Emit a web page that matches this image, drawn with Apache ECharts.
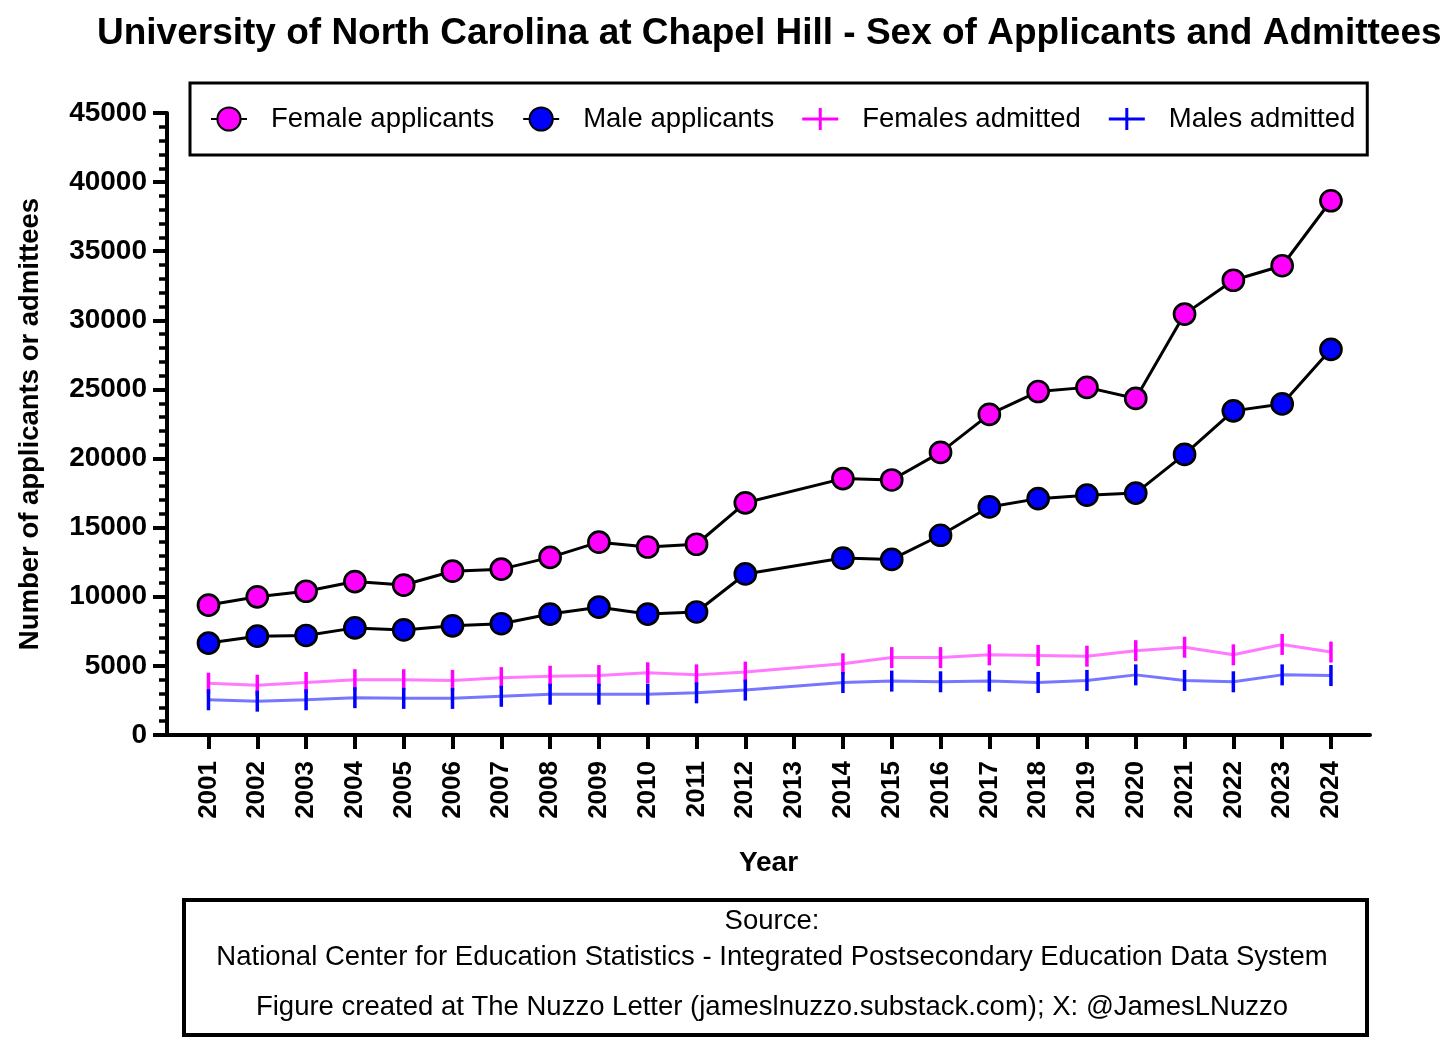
<!DOCTYPE html>
<html>
<head>
<meta charset="utf-8">
<title>UNC Chapel Hill - Sex of Applicants and Admittees</title>
<script src="https://cdn.jsdelivr.net/npm/echarts@6/dist/echarts.min.js"></script>
<style>
  html, body { margin: 0; padding: 0; background: #fff; }
  #chart { width: 1456px; height: 1041px; }
</style>
</head>
<body>
<div id="chart"></div>
<script>
// years on the x axis (2013 has no data, the lines just run through)
var years = [2001, 2002, 2003, 2004, 2005, 2006, 2007, 2008, 2009, 2010, 2011, 2012,
             2013, 2014, 2015, 2016, 2017, 2018, 2019, 2020, 2021, 2022, 2023, 2024];

var femaleApplicants = [9400, 10000, 10400, 11100, 10850, 11850, 12000, 12850, 13950, 13600, 13800, 16800,
                        null, 18550, 18450, 20450, 23200, 24850, 25150, 24350, 30450, 32900, 33950, 38650];
var maleApplicants   = [6650, 7150, 7200, 7750, 7600, 7900, 8050, 8750, 9250, 8750, 8900, 11650,
                        null, 12800, 12700, 14450, 16500, 17100, 17350, 17500, 20300, 23450, 23950, 27900];
var femalesAdmitted  = [3750, 3600, 3800, 4000, 4000, 3950, 4150, 4250, 4300, 4500, 4350, 4550,
                        null, 5150, 5600, 5600, 5800, 5750, 5700, 6100, 6350, 5800, 6550, 6000];
var malesAdmitted    = [2550, 2450, 2550, 2700, 2650, 2650, 2800, 2950, 2950, 2950, 3050, 3250,
                        null, 3800, 3900, 3850, 3900, 3800, 3950, 4350, 3950, 3850, 4350, 4300];

var yTicks = [0, 5000, 10000, 15000, 20000, 25000, 30000, 35000, 40000, 45000];

var FONT = '"Liberation Sans", Arial, Helvetica, sans-serif';

function pairs(vals) {
  return years.map(function (y, i) { return [y, vals[i]]; });
}
function plain(v) { return String(Math.round(v)); }

var plusIcon = 'path://M0,9.5 L36,9.5 L36,12.5 L0,12.5 Z M16.5,0 L19.5,0 L19.5,22 L16.5,22 Z';

var myChart = echarts.init(document.getElementById('chart'));
var option = {
  animation: false,
  backgroundColor: '#fff',
  title: {
    text: 'University of North Carolina at Chapel Hill - Sex of Applicants and Admittees',
    left: 97,
    top: 15,
    padding: 0,
    textStyle: { fontFamily: FONT, fontWeight: 'bold', fontSize: 37, color: '#000' }
  },
  legend: {
    left: 190,
    top: 83,
    padding: [22, 12, 22, 20],
    itemGap: 28,
    itemWidth: 36,
    itemHeight: 29,
    borderColor: '#000',
    borderWidth: 3,
    textStyle: { fontFamily: FONT, fontSize: 27.5, color: '#000', padding: [0, 0, 0, 19] },
    data: [
      { name: 'Female applicants' },
      { name: 'Male applicants' },
      { name: 'Females admitted', icon: plusIcon, itemStyle: { color: '#ff00ff' } },
      { name: 'Males admitted', icon: plusIcon, itemStyle: { color: '#0000ff' } }
    ]
  },
  grid: { left: 167, right: 86, top: 113, bottom: 306 },
  xAxis: {
    type: 'value',
    min: 2000.15,
    max: 2024.8,
    name: 'Year',
    nameLocation: 'middle',
    nameGap: 114,
    nameTextStyle: { fontFamily: FONT, fontWeight: 'bold', fontSize: 28, color: '#000' },
    axisLine: { show: true, lineStyle: { color: '#000', width: 4 } },
    axisTick: { show: true, customValues: years, length: 14, lineStyle: { color: '#000', width: 4 } },
    axisLabel: {
      customValues: years,
      formatter: plain,
      rotate: 90,
      margin: 26,
      fontFamily: FONT, fontWeight: 'bold', fontSize: 26, color: '#000'
    },
    splitLine: { show: false }
  },
  yAxis: {
    type: 'value',
    min: 0,
    max: 45000,
    interval: 5000,
    name: 'Number of applicants or admittees',
    nameLocation: 'middle',
    nameGap: 123,
    nameTextStyle: { fontFamily: FONT, fontWeight: 'bold', fontSize: 27.5, color: '#000' },
    axisLine: { show: true, lineStyle: { color: '#000', width: 4 } },
    axisTick: { show: true, length: 14, lineStyle: { color: '#000', width: 4 } },
    minorTick: { show: true, splitNumber: 5, length: 8, lineStyle: { color: '#000', width: 3.5 } },
    axisLabel: {
      customValues: yTicks,
      formatter: plain,
      margin: 20,
      fontFamily: FONT, fontWeight: 'bold', fontSize: 28, color: '#000'
    },
    splitLine: { show: false }
  },
  series: [
    {
      name: 'Females admitted',
      type: 'line',
      data: pairs(femalesAdmitted),
      connectNulls: true,
      symbol: 'rect',
      symbolSize: [3.5, 21],
      z: 2,
      lineStyle: { color: '#ff7aff', width: 3 },
      itemStyle: { color: '#ff00ff' }
    },
    {
      name: 'Males admitted',
      type: 'line',
      data: pairs(malesAdmitted),
      connectNulls: true,
      symbol: 'rect',
      symbolSize: [3.5, 21],
      z: 2,
      lineStyle: { color: '#7676ff', width: 3 },
      itemStyle: { color: '#0000ff' }
    },
    {
      name: 'Female applicants',
      type: 'line',
      data: pairs(femaleApplicants),
      connectNulls: true,
      symbol: 'circle',
      symbolSize: 21,
      z: 3,
      lineStyle: { color: '#000', width: 3 },
      itemStyle: { color: '#ff00ff', borderColor: '#000', borderWidth: 2.7 }
    },
    {
      name: 'Male applicants',
      type: 'line',
      data: pairs(maleApplicants),
      connectNulls: true,
      symbol: 'circle',
      symbolSize: 21,
      z: 3,
      lineStyle: { color: '#000', width: 3 },
      itemStyle: { color: '#0000ff', borderColor: '#000', borderWidth: 2.7 }
    }
  ],
  graphic: [
    {
      type: 'rect',
      shape: { x: 184, y: 900, width: 1183, height: 135 },
      style: { fill: '#fff', stroke: '#000', lineWidth: 4 }
    },
    {
      type: 'text',
      x: 772, y: 921,
      style: { text: 'Source:', fill: '#000', font: '27.5px ' + FONT, align: 'center', verticalAlign: 'middle' }
    },
    {
      type: 'text',
      x: 772, y: 957,
      style: {
        text: 'National Center for Education Statistics - Integrated Postsecondary Education Data System',
        fill: '#000', font: '27.5px ' + FONT, align: 'center', verticalAlign: 'middle'
      }
    },
    {
      type: 'text',
      x: 772, y: 1007,
      style: {
        text: 'Figure created at The Nuzzo Letter (jameslnuzzo.substack.com); X: @JamesLNuzzo',
        fill: '#000', font: '27.5px ' + FONT, align: 'center', verticalAlign: 'middle'
      }
    }
  ]
};
myChart.setOption(option);
</script>
</body>
</html>
